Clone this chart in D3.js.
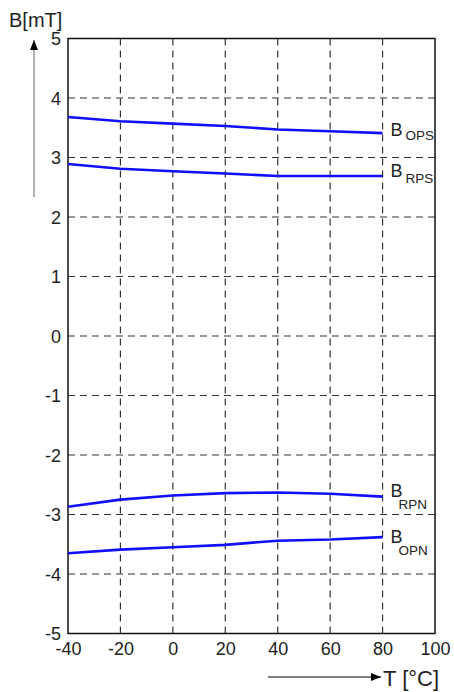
<!DOCTYPE html>
<html>
<head>
<meta charset="utf-8">
<script src="https://cdn.jsdelivr.net/npm/d3@7"></script>
<style>
  body { margin: 0; background: #fff; }
  svg { display: block; font-family: "Liberation Sans", Arial, sans-serif; }
</style>
</head>
<body>
<svg width="454" height="692"></svg>
<script>
'use strict'

// temperature points (°C)
const temps = [-40, -20, 0, 20, 40, 60, 80];
// switching fields (mT)
const bOPS = [3.68, 3.61, 3.57, 3.53, 3.47, 3.44, 3.41];
const bRPS = [2.89, 2.81, 2.77, 2.73, 2.69, 2.69, 2.69];
const bRPN = [-2.87, -2.75, -2.68, -2.64, -2.63, -2.65, -2.70];
const bOPN = [-3.65, -3.59, -3.55, -3.51, -3.44, -3.42, -3.38];

const xTicks = [-40, -20, 0, 20, 40, 60, 80, 100];
const yTicks = [-5, -4, -3, -2, -1, 0, 1, 2, 3, 4, 5];
const seriesNames = ['OPS', 'RPS', 'RPN', 'OPN'];

const LEFT = 68, RIGHT = 435, TOP = 38.5, BOTTOM = 633.5;

const svg = d3.select('svg');

const x = d3.scaleLinear().domain([-40, 100]).range([LEFT, RIGHT]);
const y = d3.scaleLinear().domain([-5, 5]).range([BOTTOM, TOP]);

const defs = svg.append('defs');
defs.append('marker')
  .attr('id', 'arrow')
  .attr('viewBox', '0 0 10 10')
  .attr('refX', 10).attr('refY', 5)
  .attr('markerWidth', 10).attr('markerHeight', 10)
  .attr('markerUnits', 'userSpaceOnUse')
  .attr('orient', 'auto')
  .append('path')
  .attr('d', 'M0,1 L10,5 L0,9 Z')
  .attr('fill', '#000');

// dashed grid
svg.append('g')
  .selectAll('line')
  .data(xTicks.slice(1, -1))
  .join('line')
  .attr('x1', d => x(d)).attr('x2', d => x(d))
  .attr('y1', TOP).attr('y2', BOTTOM)
  .attr('stroke', '#333').attr('stroke-width', 1.2)
  .attr('stroke-dasharray', '7,5');

svg.append('g')
  .selectAll('line')
  .data(yTicks.slice(1, -1))
  .join('line')
  .attr('x1', LEFT).attr('x2', RIGHT)
  .attr('y1', d => y(d)).attr('y2', d => y(d))
  .attr('stroke', '#333').attr('stroke-width', 1.2)
  .attr('stroke-dasharray', '7,5');

// frame
svg.append('rect')
  .attr('x', LEFT).attr('y', TOP)
  .attr('width', RIGHT - LEFT).attr('height', BOTTOM - TOP)
  .attr('fill', 'none').attr('stroke', '#111').attr('stroke-width', 1.5);

// axes
const xAxis = svg.append('g')
  .attr('transform', `translate(0,${BOTTOM})`)
  .call(d3.axisBottom(x).tickValues(xTicks).tickSize(0).tickPadding(9)
    .tickFormat(d => String(d)));
const yAxis = svg.append('g')
  .attr('transform', `translate(${LEFT},0)`)
  .call(d3.axisLeft(y).tickValues(yTicks).tickSize(0).tickPadding(7)
    .tickFormat(d => String(d)));
[xAxis, yAxis].forEach(g => {
  g.select('.domain').remove();
  g.selectAll('text')
    .attr('font-size', 18)
    .attr('font-family', '"Liberation Sans", Arial, sans-serif')
    .attr('fill', '#222');
});
yAxis.selectAll('text').attr('dy', '0.36em');
xAxis.selectAll('text').attr('dy', '0.68em');

// curves
const line = d3.line()
  .x((d, i) => x(temps[i]))
  .y(d => y(d));

const all = [bOPS, bRPS, bRPN, bOPN];
svg.append('g')
  .selectAll('path')
  .data(all)
  .join('path')
  .attr('d', line)
  .attr('fill', 'none')
  .attr('stroke', '#1010ff')
  .attr('stroke-width', 2.6)
  .attr('stroke-linejoin', 'round');

// labels at the curve ends
const labelDy = [3, 1, 0, 6];
const subDx = [15, 15, 8, 8];
const subDy = [4, 6, 12, 12];
all.forEach((s, i) => {
  const lx = x(temps[temps.length - 1]) + 8;
  const ly = y(s[s.length - 1]) + labelDy[i];
  const t = svg.append('text')
    .attr('x', lx).attr('y', ly)
    .attr('font-size', 18).attr('fill', '#222');
  t.append('tspan').text('B');
  t.append('tspan')
    .attr('x', lx + subDx[i])
    .attr('dy', subDy[i])
    .attr('font-size', 13.5)
    .text(seriesNames[i]);
});

// axis titles with arrows
svg.append('text')
  .attr('x', 9).attr('y', 27)
  .attr('font-size', 20).attr('fill', '#222')
  .text('B[mT]');
svg.append('line')
  .attr('x1', 34).attr('x2', 34)
  .attr('y1', 197).attr('y2', 40)
  .attr('stroke', '#999').attr('stroke-width', 1.5)
  .attr('marker-end', 'url(#arrow)');

svg.append('line')
  .attr('x1', 268).attr('x2', 381)
  .attr('y1', 677).attr('y2', 677)
  .attr('stroke', '#555').attr('stroke-width', 1.3)
  .attr('marker-end', 'url(#arrow)');
svg.append('text')
  .attr('x', 383).attr('y', 686)
  .attr('font-size', 22).attr('fill', '#222')
  .text('T [°C]');
</script>
</body>
</html>
